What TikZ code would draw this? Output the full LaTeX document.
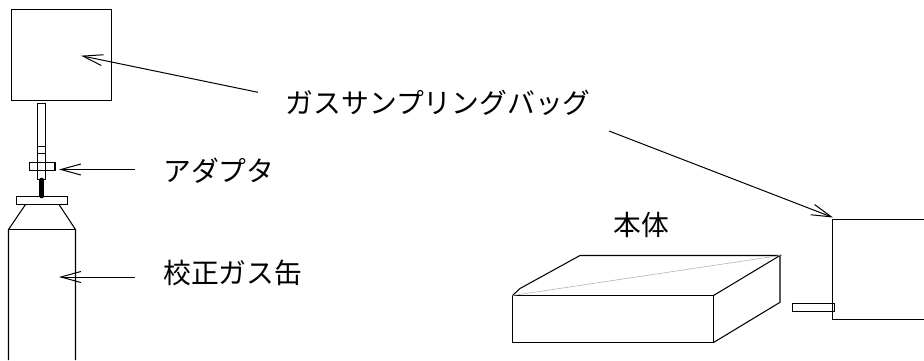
\documentclass[tikz,border=0pt]{standalone}
\usepackage{fontspec}
\newfontfamily\cjk{Noto Sans CJK JP}
\usetikzlibrary{arrows.meta}
\tikzset{
  outline/.style={draw=black,line width=1.05pt,line join=miter},
  pointer/.style={draw=black,line width=1pt,-{Straight Barb[length=20pt,width=11pt,line width=1pt]}},
  lbl/.style={font=\cjk\fontsize{27.8pt}{30pt}\selectfont,inner sep=0pt,anchor=west,text=black}
}
\begin{document}
\begin{tikzpicture}[x=1pt,y=-1pt]
\useasboundingbox (0,0) rectangle (924,360);
% left bag
\draw[outline] (11.5,9.5) rectangle (111.5,100.5);
% tube
\draw[outline] (37.5,103.5) rectangle (45.5,179.5);
\draw[outline] (37.5,146.5) -- (45.5,146.5);
\draw[outline] (37.5,153.5) -- (45.5,153.5);
\draw[outline,line width=1.5pt] (45.5,146.5) -- (45.5,153.5);
\draw[outline] (29.5,162.5) rectangle (55,170.5);
\draw[black,line width=4.7pt,line cap=round] (41.8,180) -- (41.8,196);
% cylinder
\draw[outline] (16.5,196.5) rectangle (67.5,204.5);
\draw[outline] (25.5,204.5) -- (8.5,229.5) -- (8.5,360);
\draw[outline] (59,204.5) -- (75.5,229.5) -- (75.5,360);
\draw[outline] (8.5,229.5) -- (75.5,229.5);
% main unit
\draw[outline] (512.5,295.5) rectangle (713.5,342.5);
\draw[outline] (512.5,295.5) -- (520,288.5) -- (580,255.5) -- (780,255.5) -- (713.5,295.5);
\draw[outline] (780,255.5) -- (780,302.3) -- (713.5,342.5);
\draw[gray!60,line width=0.6pt] (512.5,295.5) -- (780,255.5);
% right bag
\draw[outline] (924,219.5) -- (832.5,219.5) -- (832.5,319.5) -- (924,319.5);
\draw[outline] (792.5,303.5) rectangle (834.3,311.5);
% labels
\node[lbl] (bagtext) at (285.5,103) {ガスサンプリングバッグ};
\node[lbl] (adapter) at (163,171) {アダプタ};
\node[lbl] (can) at (163,272.5) {校正ガス缶};
\node[lbl] (body) at (613,225) {本体};
% pointers
\coordinate (a1) at (258,92.3);
\coordinate (a2) at (81,55.7);
\coordinate (b1) at (609,131);
\coordinate (b2) at (833,217.5);
\coordinate (c1) at (135,169.5);
\coordinate (c2) at (59,169.5);
\coordinate (d1) at (135,277);
\coordinate (d2) at (59,277);
\draw[pointer] (a1) -- (a2);
\draw[pointer] (b1) -- (b2);
\draw[pointer] (c1) -- (c2);
\draw[pointer] (d1) -- (d2);
\end{tikzpicture}
\end{document}
